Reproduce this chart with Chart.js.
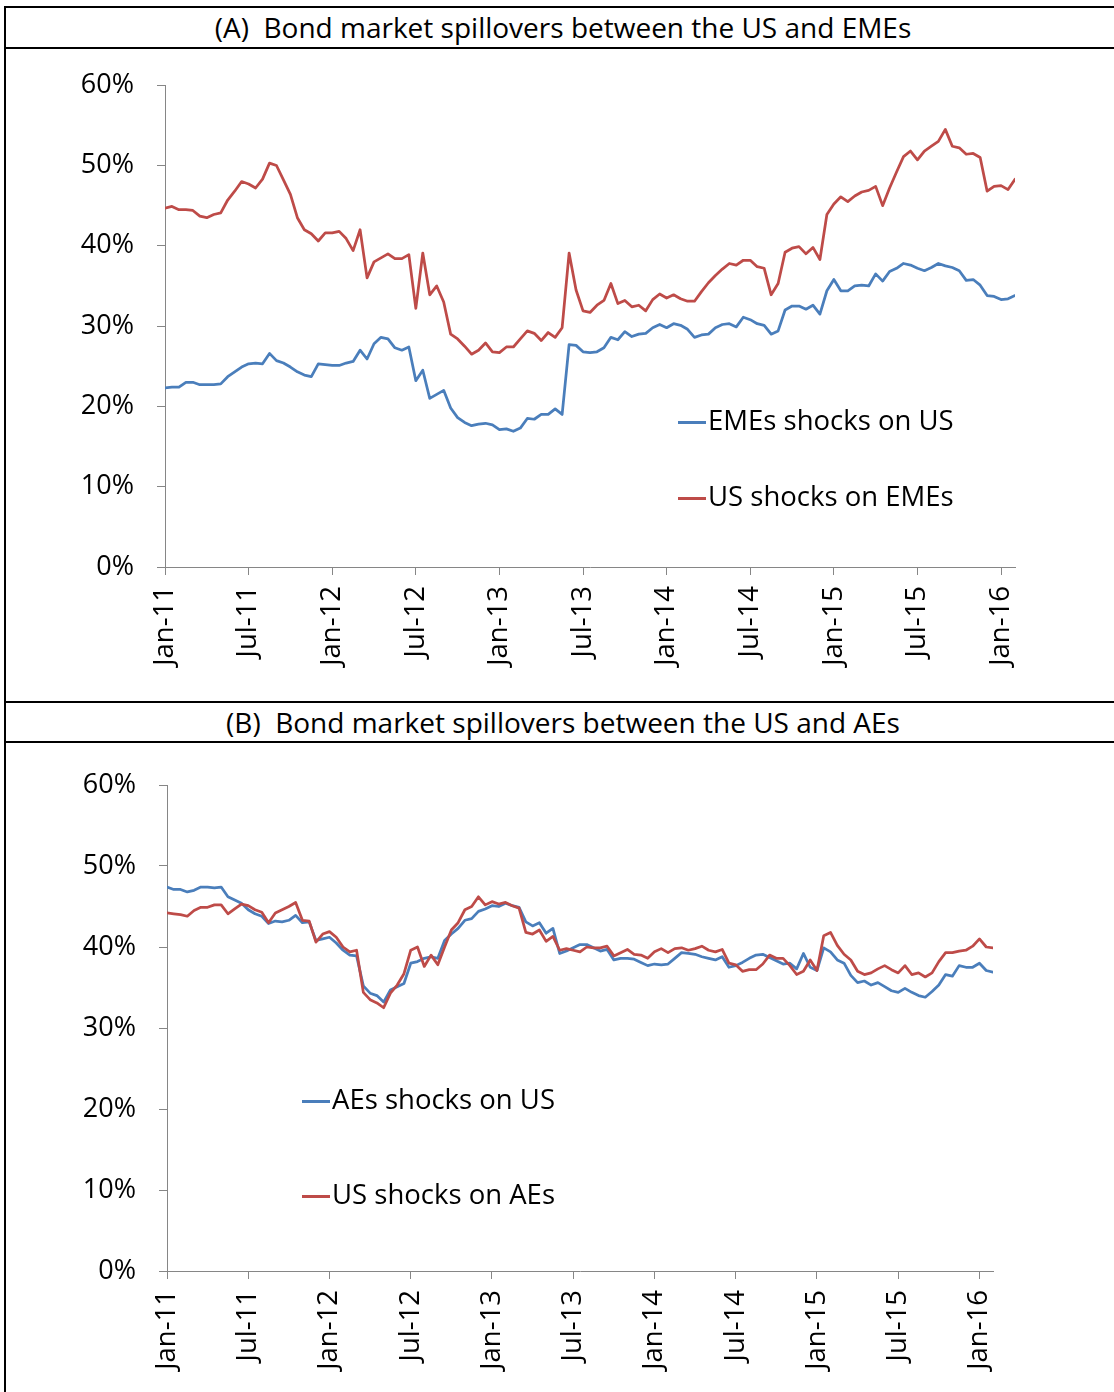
<!DOCTYPE html>
<html>
<head>
<meta charset="utf-8">
<title>Bond market spillovers</title>
<script src="https://cdn.jsdelivr.net/npm/chart.js@4.4.0/dist/chart.umd.min.js"></script>
<style>
  body { margin: 0; background: #fff; font-family: "Open Sans", sans-serif; }
  #page { position: relative; width: 1114px; height: 1392px; overflow: hidden; }
  .rule { position: absolute; background: #000; z-index: 2; }
  .title { position: absolute; left: 12px; width: 1102px; text-align: center; font-size: 28px; color: #000; white-space: pre; }
  canvas { position: absolute; left: 0; }
  .key { position: absolute; font-size: 27.5px; color: #000; white-space: nowrap; line-height: 40px; height: 40px; }
  .key span.sw { display: inline-block; width: 28px; height: 3px; vertical-align: middle; margin-right: 2px; }
</style>
</head>
<body>
<div id="page">
  <div class="rule" style="left:4px;top:6px;width:1110px;height:2px"></div>
  <div class="rule" style="left:4px;top:6px;width:2px;height:1386px"></div>
  <div class="rule" style="left:4px;top:47px;width:1110px;height:2px"></div>
  <div class="rule" style="left:4px;top:701px;width:1110px;height:2px"></div>
  <div class="rule" style="left:4px;top:741px;width:1110px;height:2px"></div>
  <div class="title" style="top:8px;height:39px;line-height:39px">(A)  Bond market spillovers between the US and EMEs</div>
  <div class="title" style="top:703px;height:38px;line-height:38px">(B)  Bond market spillovers between the US and AEs</div>
  <canvas id="chartA" width="1114" height="654" style="top:46px"></canvas>
  <canvas id="chartB" width="1114" height="648" style="top:744px"></canvas>
</div>

<script>
// x positions are months since Jan 2011, values read every half month
var tickMonths = [0, 6, 12, 18, 24, 30, 36, 42, 48, 54, 60];
var tickLabels = ["Jan-11", "Jul-11", "Jan-12", "Jul-12", "Jan-13", "Jul-13", "Jan-14", "Jul-14", "Jan-15", "Jul-15", "Jan-16"];

// panel A: US vs emerging market economies (%)
var emeShocksOnUS = [
  22.3, 22.4, 22.4, 23.0, 23.0, 22.7, 22.7, 22.7, 22.8, 23.7,
  24.3, 24.9, 25.3, 25.4, 25.3, 26.6, 25.7, 25.4, 24.9, 24.3,
  23.9, 23.7, 25.3, 25.2, 25.1, 25.1, 25.4, 25.6, 27.0, 25.9,
  27.8, 28.6, 28.4, 27.3, 27.0, 27.4, 23.2, 24.5, 21.0, 21.5,
  22.0, 19.8, 18.6, 18.0, 17.6, 17.8, 17.9, 17.7, 17.1, 17.2,
  16.9, 17.3, 18.5, 18.4, 19.0, 19.0, 19.7, 19.0, 27.7, 27.6,
  26.8, 26.7, 26.8, 27.3, 28.6, 28.3, 29.3, 28.7, 29.0, 29.1,
  29.8, 30.2, 29.8, 30.3, 30.1, 29.6, 28.6, 28.9, 29.0, 29.8,
  30.2, 30.3, 29.9, 31.1, 30.8, 30.3, 30.1, 29.0, 29.4, 32.0,
  32.5, 32.5, 32.1, 32.6, 31.5, 34.4, 35.8, 34.4, 34.4, 35.0,
  35.1, 35.0, 36.5, 35.6, 36.8, 37.2, 37.8, 37.6, 37.2, 36.9,
  37.3, 37.8, 37.5, 37.3, 36.9, 35.7, 35.8, 35.1, 33.8, 33.7,
  33.3, 33.4, 33.8
];
var usShocksOnEMEs = [
  44.7, 44.9, 44.5, 44.5, 44.4, 43.7, 43.5, 43.9, 44.1, 45.7,
  46.8, 48.0, 47.7, 47.2, 48.3, 50.3, 50.0, 48.2, 46.4, 43.5,
  42.0, 41.5, 40.6, 41.6, 41.6, 41.8, 40.9, 39.4, 42.0, 36.0,
  38.0, 38.5, 39.0, 38.4, 38.4, 38.9, 32.2, 39.1, 33.9, 35.0,
  33.0, 29.0, 28.4, 27.5, 26.5, 27.0, 27.9, 26.8, 26.7, 27.4,
  27.4, 28.4, 29.4, 29.1, 28.2, 29.2, 28.6, 29.8, 39.1, 34.5,
  31.9, 31.7, 32.6, 33.2, 35.3, 32.8, 33.2, 32.4, 32.6, 31.9,
  33.3, 34.0, 33.5, 33.9, 33.4, 33.1, 33.1, 34.3, 35.4, 36.3,
  37.1, 37.8, 37.6, 38.2, 38.2, 37.4, 37.2, 33.9, 35.3, 39.2,
  39.7, 39.9, 39.0, 39.8, 38.3, 43.9, 45.2, 46.1, 45.5, 46.2,
  46.7, 46.9, 47.4, 45.0, 47.2, 49.2, 51.1, 51.8, 50.7, 51.8,
  52.4, 53.0, 54.5, 52.4, 52.2, 51.4, 51.5, 51.0, 46.8, 47.4,
  47.5, 47.0, 48.3
];

// panel B: US vs advanced economies (%)
var aeShocksOnUS = [
  47.4, 47.1, 47.1, 46.8, 47.0, 47.4, 47.4, 47.3, 47.4, 46.2,
  45.8, 45.4, 44.6, 44.1, 43.8, 42.9, 43.2, 43.1, 43.3, 43.9,
  43.0, 43.1, 40.8, 41.0, 41.2, 40.5, 39.6, 39.0, 38.9, 35.2,
  34.3, 34.0, 33.2, 34.7, 35.1, 35.5, 38.0, 38.2, 38.6, 38.8,
  38.6, 40.8, 41.6, 42.3, 43.3, 43.5, 44.4, 44.7, 45.1, 45.0,
  45.4, 45.1, 44.9, 43.1, 42.6, 43.0, 41.7, 42.3, 39.2, 39.5,
  39.9, 40.3, 40.3, 39.9, 39.5, 39.7, 38.4, 38.6, 38.6, 38.5,
  38.1, 37.7, 37.9, 37.8, 37.9, 38.6, 39.3, 39.2, 39.1, 38.8,
  38.6, 38.4, 38.8, 37.5, 37.7, 38.1, 38.6, 39.0, 39.1, 38.7,
  38.3, 37.9, 38.0, 37.3, 39.2, 37.5, 37.1, 39.9, 39.4, 38.4,
  38.0, 36.5, 35.6, 35.8, 35.3, 35.6, 35.1, 34.6, 34.4, 34.9,
  34.4, 34.0, 33.8, 34.5, 35.3, 36.6, 36.4, 37.7, 37.5, 37.5,
  38.0, 37.1, 36.9
];
var usShocksOnAEs = [
  44.2, 44.1, 44.0, 43.8, 44.5, 44.9, 44.9, 45.2, 45.2, 44.1,
  44.7, 45.3, 45.1, 44.6, 44.3, 43.0, 44.2, 44.6, 45.0, 45.5,
  43.3, 43.2, 40.6, 41.6, 41.9, 41.2, 40.0, 39.4, 39.6, 34.4,
  33.5, 33.1, 32.5, 34.3, 35.3, 36.7, 39.6, 40.0, 37.6, 39.0,
  37.8, 40.0, 42.1, 43.0, 44.6, 45.0, 46.2, 45.2, 45.6, 45.3,
  45.5, 45.1, 44.8, 41.8, 41.6, 42.1, 40.7, 41.3, 39.6, 39.8,
  39.6, 39.4, 40.0, 39.9, 39.9, 40.1, 38.9, 39.3, 39.7, 39.1,
  39.0, 38.6, 39.4, 39.8, 39.3, 39.8, 39.9, 39.6, 39.8, 40.1,
  39.6, 39.4, 39.7, 38.0, 37.8, 37.0, 37.2, 37.2, 37.9, 39.0,
  38.6, 38.6, 37.7, 36.6, 37.0, 38.4, 37.1, 41.4, 41.8, 40.2,
  39.1, 38.4, 37.0, 36.6, 36.8, 37.3, 37.7, 37.2, 36.8, 37.7,
  36.6, 36.8, 36.3, 36.8, 38.2, 39.3, 39.3, 39.5, 39.6, 40.1,
  41.0, 40.0, 39.9
];

var blue = "#4A7EBB";
var red = "#BE4B48";
var axisGrey = "#868686";

Chart.defaults.font.family = '"Open Sans", sans-serif';
Chart.defaults.color = "#000";

function toPoints(series) {
  return series.map(function(v, i) { return { x: i / 2, y: v }; });
}

function drawPanel(id, series, names, frame) {
  var ctx = document.getElementById(id).getContext("2d");
  return new Chart(ctx, {
    type: "line",
    data: {
      datasets: [
        { label: names[0], data: toPoints(series[0]), borderColor: blue, order: 2 },
        { label: names[1], data: toPoints(series[1]), borderColor: red, order: 1 }
      ]
    },
    options: {
      responsive: false,
      animation: false,
      devicePixelRatio: 1,
      layout: { padding: { left: 0, top: frame.top, right: frame.right, bottom: 0 } },
      elements: {
        line: { borderWidth: 2.75, tension: 0, borderJoinStyle: "round", borderCapStyle: "round" },
        point: { radius: 0 }
      },
      plugins: { legend: { display: false }, tooltip: { enabled: false } },
      scales: {
        x: {
          type: "linear",
          min: 0,
          max: 61,
          afterBuildTicks: function(scale) {
            scale.ticks = tickMonths.map(function(m) { return { value: m }; });
          },
          afterFit: function(scale) { scale.height = frame.axisHeight; },
          ticks: {
            autoSkip: false,
            minRotation: 90,
            maxRotation: 90,
            padding: 11,
            font: { size: 27.5 },
            callback: function(v) { return tickLabels[tickMonths.indexOf(v)]; }
          },
          grid: { drawOnChartArea: false, drawTicks: true, tickLength: 8, color: axisGrey },
          border: { color: axisGrey }
        },
        y: {
          min: 0,
          max: 60,
          afterFit: function(scale) { scale.width = frame.axisWidth; },
          ticks: {
            stepSize: 10,
            padding: 23,
            font: { size: 27 },
            callback: function(v) { return v + "%"; }
          },
          grid: { drawOnChartArea: false, drawTicks: true, tickLength: 8, color: axisGrey },
          border: { color: axisGrey }
        }
      }
    }
  });
}

function addKey(chart, left, rows) {
  var page = document.getElementById("page");
  chart.data.datasets.forEach(function(ds, i) {
    var row = document.createElement("div");
    row.className = "key";
    row.style.left = left + "px";
    row.style.top = (rows[i] - 20) + "px";
    var sw = document.createElement("span");
    sw.className = "sw";
    sw.style.background = ds.borderColor;
    row.appendChild(sw);
    row.appendChild(document.createTextNode(ds.label));
    page.appendChild(row);
  });
}

var chartA = drawPanel("chartA", [emeShocksOnUS, usShocksOnEMEs],
  ["EMEs shocks on US", "US shocks on EMEs"],
  { top: 38, right: 99, axisWidth: 165, axisHeight: 133 });
var chartB = drawPanel("chartB", [aeShocksOnUS, usShocksOnAEs],
  ["AEs shocks on US", "US shocks on AEs"],
  { top: 41, right: 121, axisWidth: 167, axisHeight: 121 });

addKey(chartA, 678, [420, 496]);
addKey(chartB, 302, [1099, 1194]);
</script>
</body>
</html>
